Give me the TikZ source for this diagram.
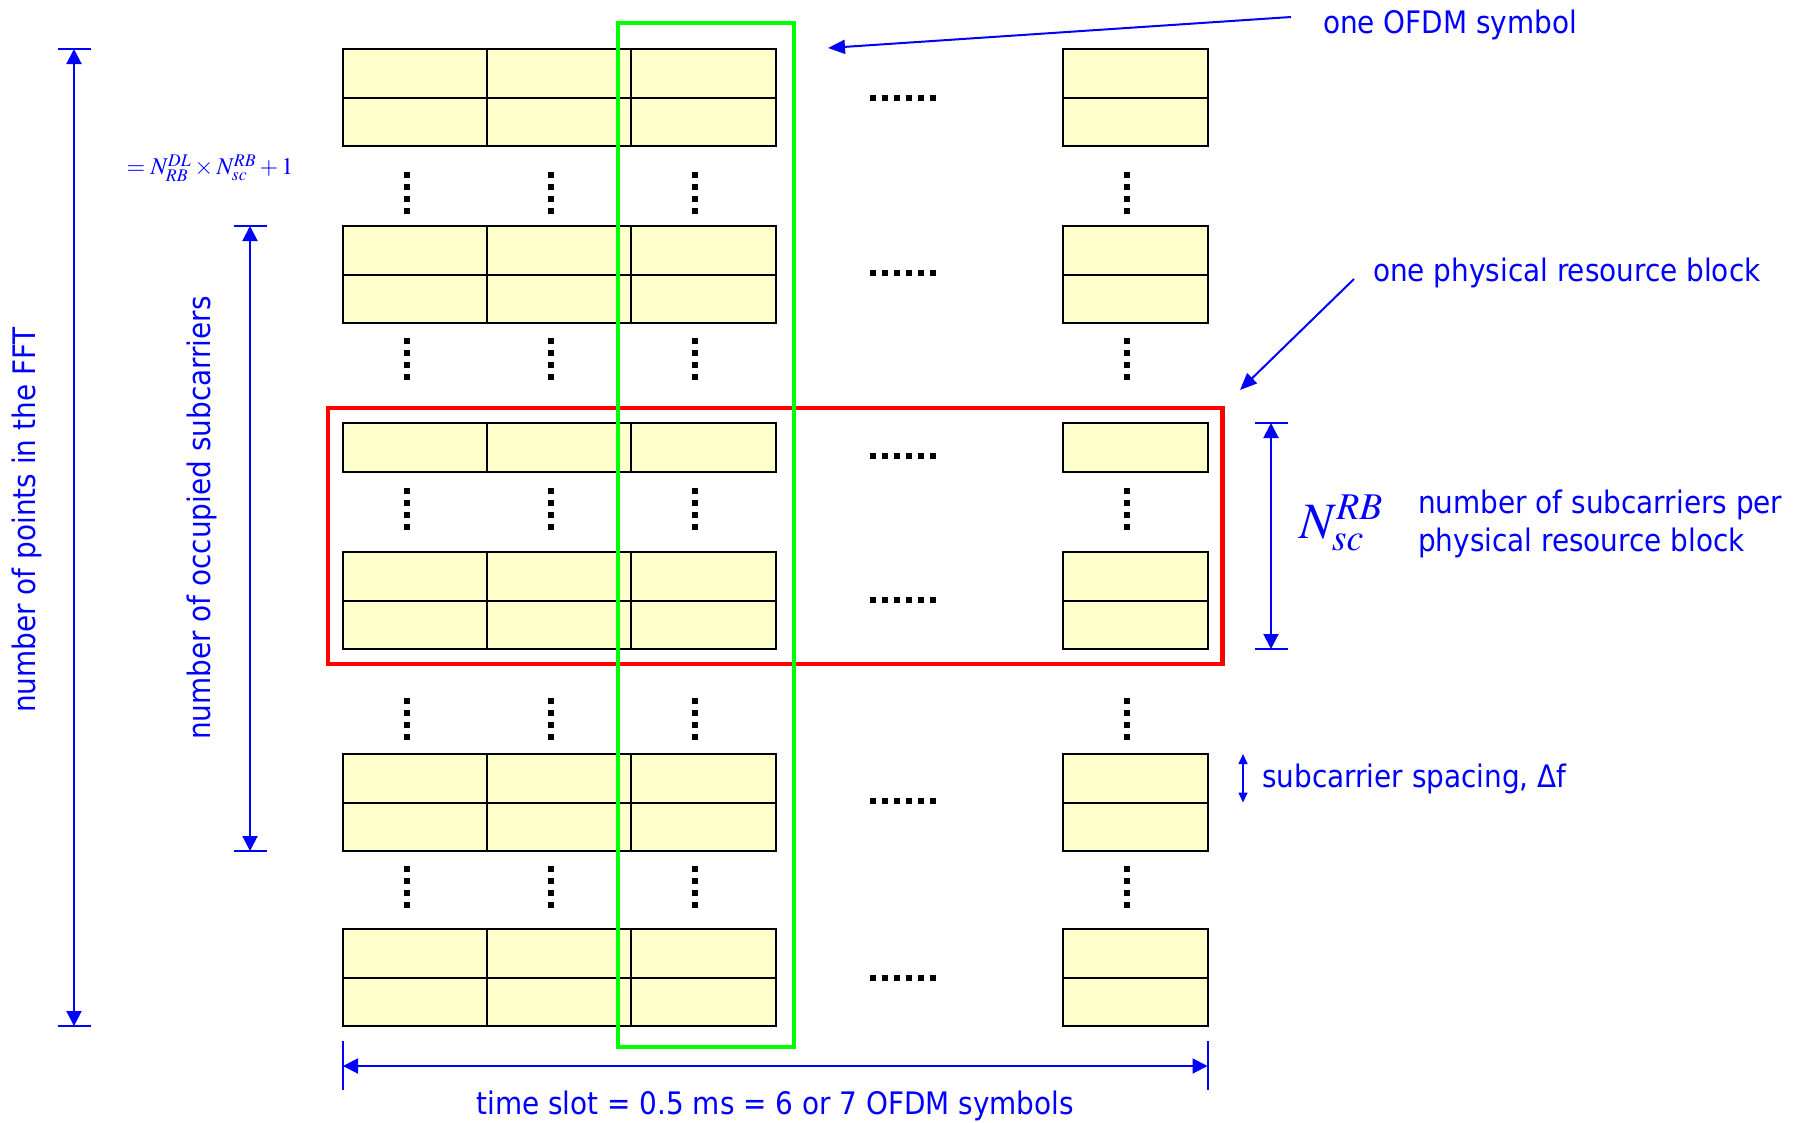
\documentclass[tikz,border=0pt]{standalone}
\usepackage{mathptmx}
\usepackage[no-math]{fontspec}
\setmainfont{DejaVu Sans Condensed}
\usepackage{xcolor}
\definecolor{CellFill}{HTML}{FFFFCC}
\definecolor{InkBlue}{HTML}{0000FF}
\definecolor{SymGreen}{HTML}{00FF00}
\definecolor{BlockRed}{HTML}{FF0000}
\usetikzlibrary{arrows.meta,positioning,calc,fit}

\begin{document}
\begin{tikzpicture}[
  x=1pt, y=-1pt,
  font=\fontsize{31}{38}\selectfont,
  cell/.style={draw=black, fill=CellFill, line width=2pt, anchor=north west,
               minimum width=144.5pt, minimum height=48.5pt,
               inner sep=0pt, outer sep=0pt},
  dots/.style={line width=6pt, dash pattern=on 6pt off 6pt},
  dim/.style={InkBlue, line width=2pt,
              {Triangle[length=15pt,width=15pt]}-{Triangle[length=15pt,width=15pt]}},
  tick/.style={InkBlue, line width=2pt},
  ptr/.style={InkBlue, line width=2pt, -{Triangle[length=17pt,width=14pt]}},
  lbl/.style={text=InkBlue, inner sep=0pt},
  prbbox/.style={draw=BlockRed, line width=4.5pt, inner sep=15pt},
  symbox/.style={draw=SymGreen, line width=3.5pt}
]
  \useasboundingbox (0,0) rectangle (1799,1122);

  \foreach \g/\top/\rows in {1/49/2, 2/226/2, 3/423/1, 4/552/2, 5/754/2, 6/929/2} {
    \foreach \r in {1,...,\rows} {
      \foreach \k/\x in {1/343, 2/487, 3/631, 4/1063} {
        \node[cell] (c\g-\r-\k) at (\x, {\top+(\r-1)*48.5}) {};
      }
    }
  }

  \foreach \y in {98,273,456,600,801,978}
    \draw[dots] (870,\y) -- (936,\y);
  \foreach \x in {407,551,695,1127}
    \foreach \y in {172,338,488,698,866}
      \draw[dots] (\x,\y) -- (\x,\y+42);

  \node[prbbox, fit=(c3-1-1) (c4-2-4)] (prb) {};
  \draw[symbox] (618,23) rectangle (794,1047);

  % FFT size
  \coordinate (ffttop) at ($(c1-1-1.north west)+(-269,0)$);
  \coordinate (fftbot) at ($(c6-2-1.south west)+(-269,0)$);
  \draw[dim] (ffttop) -- (fftbot);
  \draw[tick] ([xshift=-16.5pt]ffttop) -- ([xshift=16.5pt]ffttop);
  \draw[tick] ([xshift=-16.5pt]fftbot) -- ([xshift=16.5pt]fftbot);
  \node[lbl, rotate=90] (fftlbl) at (27,520) {number of points in the FFT};

  % occupied subcarriers
  \coordinate (occtop) at ($(c2-1-1.north west)+(-93,0)$);
  \coordinate (occbot) at ($(c5-2-1.south west)+(-93,0)$);
  \draw[dim] (occtop) -- (occbot);
  \draw[tick] ([xshift=-16.5pt]occtop) -- ([xshift=16.5pt]occtop);
  \draw[tick] ([xshift=-16.5pt]occbot) -- ([xshift=16.5pt]occbot);
  \node[lbl, rotate=90] (occlbl) at (202,518) {number of occupied subcarriers};
  \node[lbl, font=\fontsize{24}{24}\selectfont] (occeq) at (210,168)
    {$=N_{RB}^{DL}\times N_{sc}^{RB}+1$};

  % time slot
  \coordinate (slotl) at ($(c6-2-1.south west)+(0,40)$);
  \coordinate (slotr) at ($(c6-2-4.south east)+(0,40)$);
  \draw[dim] (slotl) -- node[lbl, below=24pt] (slotlbl)
    {time slot = 0.5 ms = 6 or 7 OFDM symbols} (slotr);
  \draw[tick] ([yshift=25pt]slotl) -- ([yshift=-24pt]slotl);
  \draw[tick] ([yshift=25pt]slotr) -- ([yshift=-24pt]slotr);

  % resource block height
  \coordinate (nsctop) at ($(c3-1-4.north east)+(63.5,0)$);
  \coordinate (nscbot) at ($(c4-2-4.south east)+(63.5,0)$);
  \draw[dim] (nsctop) -- (nscbot);
  \draw[tick] ([xshift=-16.5pt]nsctop) -- ([xshift=16.5pt]nsctop);
  \draw[tick] ([xshift=-16.5pt]nscbot) -- ([xshift=16.5pt]nscbot);
  \node[lbl, font=\fontsize{51}{51}\selectfont, anchor=west] (nsclbl) at (1299,523)
    {$N^{RB}_{sc}$};
  \node[lbl, anchor=west, align=left] (nsctxt) at (1418,523.5)
    {number of subcarriers per\\physical resource block};

  % subcarrier spacing
  \coordinate (dftop) at ($(c5-1-4.north east)+(35.5,0)$);
  \coordinate (dfbot) at ($(c5-1-4.south east)+(35.5,0)$);
  \draw[InkBlue, line width=1.5pt,
        {Triangle[length=10pt,width=9pt]}-{Triangle[length=10pt,width=9pt]}]
    (dftop) -- (dfbot);
  \node[lbl, anchor=west] (dflbl) at (1262,778.5) {subcarrier spacing, Δf};

  % pointers
  \node[lbl, anchor=west] (symlbl) at (1323,24.5) {one OFDM symbol};
  \coordinate (symtip) at (828,48);
  \draw[ptr] ([xshift=-32pt,yshift=7.5pt]symlbl.west) -- (symtip);
  \node[lbl, anchor=west] (prblbl) at (1373,272.5) {one physical resource block};
  \coordinate (prbtip) at (1240,390);
  \draw[ptr] ([xshift=-19pt,yshift=-6.5pt]prblbl.west) -- (prbtip);
\end{tikzpicture}
\end{document}
